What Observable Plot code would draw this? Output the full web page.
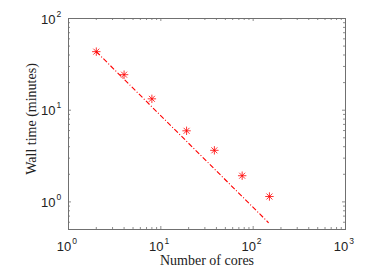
<!DOCTYPE html>
<html><head><meta charset="utf-8">
<script src="https://cdn.jsdelivr.net/npm/d3@7"></script>
<script src="https://cdn.jsdelivr.net/npm/@observablehq/plot@0.6"></script>
<style>body{margin:0;background:#fff}</style>
</head><body><div id="chart"></div>
<script>
// Measured data
const cores = [2, 4, 8, 19, 38, 76, 150];
const wallTime = [43.5, 24.4, 13.3, 5.96, 3.65, 1.93, 1.145];
// Ideal-scaling reference line (dash-dot)
const idealCores = [2, 147];
const idealTime = [43.5, 0.592];
// Axis ticks
const xMajor = [1, 10, 100, 1000];
const xExp = ["0", "1", "2", "3"];
const yMajor = [1, 10, 100];
const yExp = ["0", "1", "2"];
const xMinor = [2,3,4,5,6,7,8,9,20,30,40,50,60,70,80,90,200,300,400,500,600,700,800,900];
const yMinor = [0.6,0.7,0.8,0.9,2,3,4,5,6,7,8,9,20,30,40,50,60,70,80,90];

const W = 374, H = 280;
const mL = 68, mR = 29, mT = 18, mB = 51;
const pw = W - mL - mR, ph = H - mT - mB;
const axisColor = "#707070";
const textColor = "#222";
const sans = "'Liberation Sans Narrow', 'Liberation Sans', Arial, sans-serif";
const serif = "'Liberation Serif', 'Times New Roman', serif";

const asterisk = {
  draw(ctx, size) {
    const r = Math.sqrt(size / Math.PI), d = r * Math.SQRT1_2;
    ctx.moveTo(-r, 0); ctx.lineTo(r, 0);
    ctx.moveTo(0, -r); ctx.lineTo(0, r);
    ctx.moveTo(-d, -d); ctx.lineTo(d, d);
    ctx.moveTo(-d, d); ctx.lineTo(d, -d);
  }
};

const pts = cores.map((c, i) => ({c, t: wallTime[i]}));
const ideal = idealCores.map((c, i) => ({c, t: idealTime[i]}));

const majL = 3, minL = 2;
const tickMarks = [];
for (const [vals, len] of [[xMajor, majL], [xMinor, minL]]) {
  tickMarks.push(Plot.ruleX(vals, {x: d => d, insetTop: ph - len, stroke: axisColor, strokeWidth: 0.8}));
  tickMarks.push(Plot.ruleX(vals, {x: d => d, insetBottom: ph - len, stroke: axisColor, strokeWidth: 0.8}));
}
for (const [vals, len] of [[yMajor, majL], [yMinor, minL]]) {
  tickMarks.push(Plot.ruleY(vals, {y: d => d, insetRight: pw - len, stroke: axisColor, strokeWidth: 0.8}));
  tickMarks.push(Plot.ruleY(vals, {y: d => d, insetLeft: pw - len, stroke: axisColor, strokeWidth: 0.8}));
}

const chart = Plot.plot({
  width: W, height: H,
  marginLeft: mL, marginRight: mR, marginTop: mT, marginBottom: mB,
  x: {type: "log", domain: [1, 1000], axis: null},
  y: {type: "log", domain: [0.5, 100], axis: null},
  style: {background: "#fff"},
  marks: [
    ...tickMarks,
    Plot.frame({stroke: axisColor, strokeWidth: 1}),
    Plot.line(ideal, {x: "c", y: "t", stroke: "#ff0000", strokeWidth: 1.1, strokeDasharray: "5,2,1,2", strokeLinecap: "butt"}),
    Plot.dot(pts, {x: "c", y: "t", symbol: asterisk, r: 4.2, stroke: "#ff0000", strokeWidth: 0.8, fill: "none"}),
    // x tick labels
    Plot.text(xMajor, {x: d => d, frameAnchor: "bottom", text: () => "10", textAnchor: "end", lineAnchor: "bottom", dx: 2.7, dy: 21.7, fontSize: 13, fontFamily: sans, fill: textColor}),
    Plot.text(xMajor, {x: d => d, frameAnchor: "bottom", text: (d, i) => xExp[i], textAnchor: "start", lineAnchor: "bottom", dx: 3.7, dy: 14, fontSize: 8.5, fontFamily: sans, fill: textColor}),
    // y tick labels
    Plot.text(yMajor, {y: d => d, frameAnchor: "left", text: () => "10", textAnchor: "end", lineAnchor: "bottom", dx: -13, dy: 5.3, fontSize: 13, fontFamily: sans, fill: textColor}),
    Plot.text(yMajor, {y: d => d, frameAnchor: "left", text: (d, i) => yExp[i], textAnchor: "end", lineAnchor: "bottom", dx: -7.3, dy: -2, fontSize: 8.5, fontFamily: sans, fill: textColor}),
    // axis labels
    Plot.text(["Number of cores"], {frameAnchor: "bottom", text: d => d, textAnchor: "middle", lineAnchor: "bottom", dy: 35.4, fontSize: 14, fontFamily: serif, fill: textColor}),
    Plot.text(["Wall time (minutes)"], {frameAnchor: "left", text: d => d, textAnchor: "middle", lineAnchor: "bottom", rotate: -90, dx: -32.5, dy: -5, fontSize: 14, fontFamily: serif, fill: textColor})
  ]
});
document.getElementById("chart").appendChild(chart);
</script>
</body></html>
